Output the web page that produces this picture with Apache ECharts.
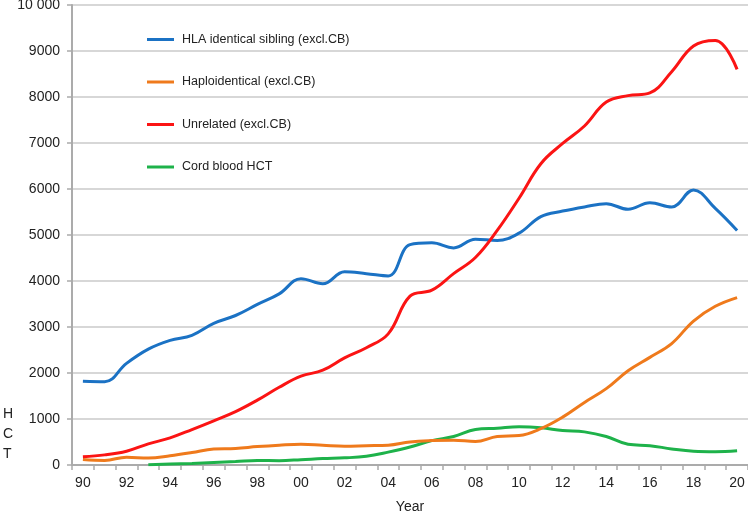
<!DOCTYPE html>
<html>
<head>
<meta charset="utf-8">
<script src="https://cdn.jsdelivr.net/npm/echarts@6/dist/echarts.min.js"></script>
<style>
html,body{margin:0;padding:0;background:#fff;}
#c{width:748px;height:512px;}
</style>
</head>
<body>
<div id="c"></div>
<script>
var years = [];
for (var y = 1990; y <= 2020; y++) years.push(String(y));

var hlaSibling = [1820,1810,2210,2520,2710,2820,3080,3250,3490,3720,4050,3940,4200,4160,4110,4790,4830,4720,4910,4880,5040,5400,5520,5610,5680,5560,5700,5610,5980,5580,5100];
var haplo = [120,100,170,150,200,270,350,360,400,430,450,430,410,420,430,500,530,540,510,620,640,790,1040,1360,1660,2050,2340,2640,3130,3450,3640];
var unrelated = [180,220,300,460,590,770,960,1160,1410,1690,1930,2060,2330,2550,2850,3670,3800,4160,4510,5100,5800,6550,6990,7370,7890,8030,8090,8550,9110,9230,8600];
var cordBlood = [null,null,null,5,20,35,55,75,100,95,115,140,155,190,280,390,530,620,770,800,830,810,750,720,620,450,420,350,300,290,310];

var seriesNames = ['HLA identical sibling (excl.CB)','Haploidentical (excl.CB)','Unrelated (excl.CB)','Cord blood HCT'];
var colors = ['#1b72c4','#ef7a1c','#fb1414','#1eb24a'];
var dataSets = [hlaSibling, haplo, unrelated, cordBlood];

var chart = echarts.init(document.getElementById('c'), null, {renderer:'canvas'});
var font = 'Liberation Sans, Arial, Helvetica, sans-serif';
var series = dataSets.map(function(d,i){
  return {
    name: seriesNames[i], type:'line', data:d, smooth:0.4, showSymbol:false,
    lineStyle:{color:colors[i], width:3}, itemStyle:{color:colors[i]},
    connectNulls:false, z: [2,3,4,1][i]
  };
});
chart.setOption({
  animation:false,
  color:colors,
  textStyle:{fontFamily:font},
  grid:{left:72, right:0, top:5, bottom:47, containLabel:false, outerBoundsMode:'none'},
  legend:{
    orient:'vertical', left:142, top:28, icon:'rect', itemWidth:27, itemHeight:3,
    itemGap:29.5, textStyle:{fontSize:12.5, color:'#222', fontFamily:font, padding:[0,0,0,3]},
    data:seriesNames
  },
  xAxis:{
    type:'category', data:years, boundaryGap:true,
    name:'Year', nameLocation:'middle', nameGap:35,
    nameTextStyle:{fontSize:14, color:'#222', fontFamily:font},
    axisLine:{lineStyle:{color:'#ababab', width:2}},
    axisTick:{show:true, interval:0, length:5, lineStyle:{color:'#ababab', width:1.5}},
    axisLabel:{interval:1, margin:11, fontSize:14, color:'#222', fontFamily:font,
      formatter:function(v){return v.slice(2);}},
    splitLine:{show:false}
  },
  yAxis:{
    type:'value', min:0, max:10000, interval:1000,
    axisLine:{show:true, lineStyle:{color:'#ababab', width:2}},
    axisTick:{show:true, length:5, lineStyle:{color:'#ababab', width:1.5}},
    axisLabel:{margin:12, fontSize:14, color:'#222', fontFamily:font,
      formatter:function(v){return v===10000 ? '10 000' : String(v);}},
    splitLine:{show:true, lineStyle:{color:'#cacaca', width:1.5}}
  },
  graphic:[{
    type:'text', left:3, top:404,
    style:{text:'H\nC\nT', fontSize:14, lineHeight:20, fill:'#222', fontFamily:font, align:'left'}
  }],
  series:series
});
</script>
</body>
</html>
